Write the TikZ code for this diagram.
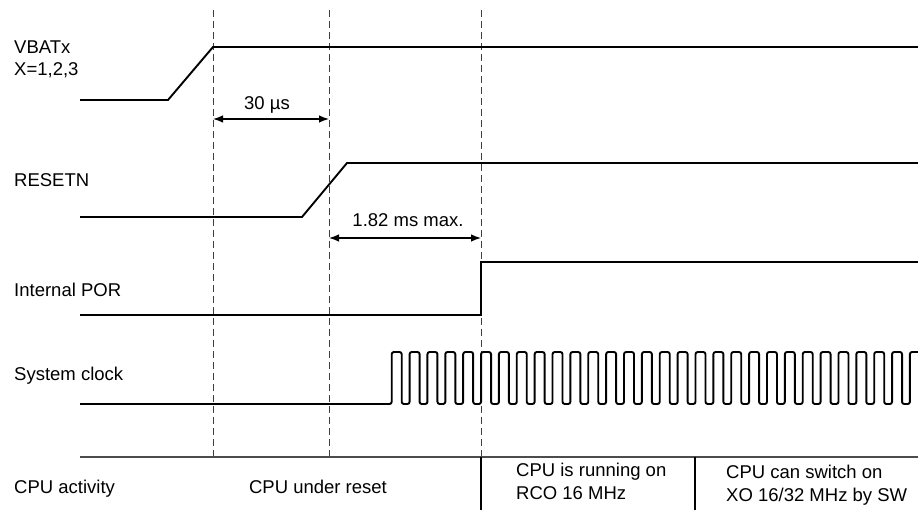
\documentclass[tikz,border=0pt]{standalone}
\usepackage{fontspec}
\setmainfont{Liberation Sans}
\usetikzlibrary{arrows.meta}
\begin{document}
\begin{tikzpicture}[x=1pt,y=-1pt,
  sig/.style={line width=1.9pt, line join=miter},
  guide/.style={line width=1pt, draw=black!75, dash pattern=on 7pt off 4pt},
  dim/.style={line width=1.3pt, {Latex[length=10pt,width=7.5pt]}-{Latex[length=10pt,width=7.5pt]}},
  lbl/.style={font=\fontsize{18.5}{22.5}\selectfont, inner sep=0pt},
  sep/.style={line width=1.2pt, draw=black!70}]
\useasboundingbox (0,0) rectangle (918,510);
% guide coordinates
\coordinate (g1t) at (213,10);  \coordinate (g1b) at (213,457);
\coordinate (g2t) at (329,10);  \coordinate (g2b) at (329,457);
\coordinate (g3t) at (481,10);  \coordinate (g3b) at (481,457);
\draw[guide] (g1t) -- (g1b);
\draw[guide] (g2t) -- (g2b);
\draw[guide] (g3t) -- (g3b);
% signal labels
\node[lbl, anchor=base west] (vbat) at (14,54) {VBATx};
\node[lbl, anchor=base west] (vbatx) at (14,75.5) {X=1,2,3};
\node[lbl, anchor=base west] (rst) at (14,187) {RESETN};
\node[lbl, anchor=base west] (por) at (14,297) {Internal POR};
\node[lbl, anchor=base west] (clk) at (14,381) {System clock};
% VBAT
\draw[sig] (80,100) -- (168,100) -- (213,47) -- (918,47);
% RESETN
\draw[sig] (80,217) -- (302,217) -- (347,163) -- (918,163);
% POR
\draw[sig] (80,315) -- (481,315) -- (481,262) -- (918,262);
% clock
\draw[sig, rounded corners=2.2pt] (80,404)
  foreach \i in {0,...,28} { -- ({391.7+\i*17.87},404) -- ++(0,-52) -- ++(10,0) -- ++(0,52) }
  -- (909.9,404) -- (909.9,352) -- (925,352);
% dimension arrows
\coordinate (a1l) at (213,119); \coordinate (a1r) at (329,119);
\draw[dim] (a1l) -- (a1r);
\node[lbl, anchor=base] (t30) at (267,110) {30 µs};
\coordinate (a2l) at (329,238); \coordinate (a2r) at (481,238);
\draw[dim] (a2l) -- (a2r);
\node[lbl, anchor=base] (t182) at (408,226.5) {1.82 ms max.};
% CPU activity row
\coordinate (hl) at (80,457); \coordinate (hr) at (918,457);
\draw[sep] (hl) -- (hr);
\coordinate (v1t) at (481,457); \coordinate (v1b) at (481,510);
\coordinate (v2t) at (695,457); \coordinate (v2b) at (695,510);
\draw[line width=1.2pt] (v1t) -- (v1b);
\draw[line width=1.2pt] (v2t) -- (v2b);
\node[lbl, anchor=base west] (act) at (14,493) {CPU activity};
\node[lbl, anchor=base] (ures) at (318,493) {CPU under reset};
\node[lbl, anchor=base west] (rco1) at (516,476) {CPU is running on};
\node[lbl, anchor=base west] (rco2) at (516,499) {RCO 16 MHz};
\node[lbl, anchor=base west] (xo1) at (726,478) {CPU can switch on};
\node[lbl, anchor=base west] (xo2) at (726,501) {XO 16/32 MHz by SW};
\end{tikzpicture}
\end{document}
